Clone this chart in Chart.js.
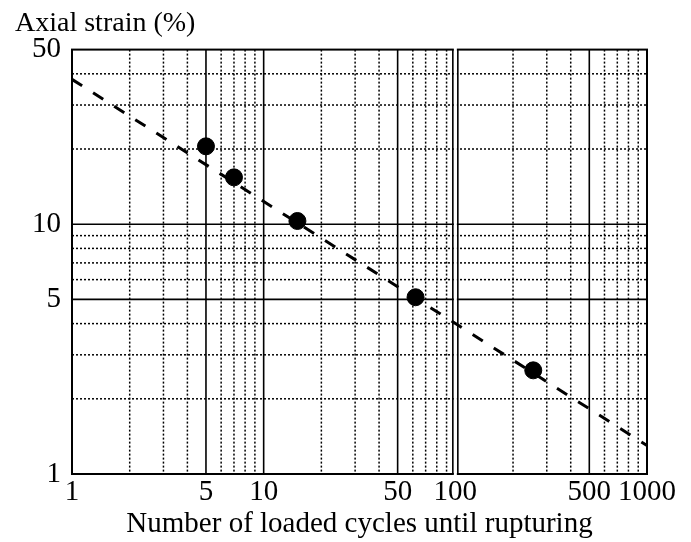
<!DOCTYPE html>
<html>
<head>
<meta charset="utf-8">
<script src="https://cdn.jsdelivr.net/npm/chart.js@4.4.1/dist/chart.umd.min.js"></script>
<style>
  html, body { margin: 0; padding: 0; background: #fff; }
  #wrap { width: 691px; height: 542px; }
</style>
</head>
<body>
<div id="wrap"><canvas id="strainChart"></canvas></div>
<script>
// measured points (cycles, axial strain %)
const cycles = [5, 7, 15, 62, 255];
const strain = [20.5, 15.4, 10.3, 5.1, 2.6];

// fitted trend line as drawn in the figure
const trendCycles = [1, 1000];
const trendStrain = [38, 1.3];

const xTickLabels = [1, 5, 10, 50, 100, 500, 1000];
const yTickLabels = [1, 5, 10, 50];

const xSolidGrid = [5, 10, 50, 500];
const xDottedGrid = [2, 3, 4, 6, 7, 8, 9, 20, 30, 40, 60, 70, 80, 90, 200, 300, 400, 600, 700, 800, 900];
const ySolidGrid = [5, 10];
const yDottedGrid = [2, 3, 4, 6, 7, 8, 9, 20, 30, 40];
const panelBreak = 100;

const serif = "'Liberation Serif', 'Times New Roman', serif";

// grid lines, panel break and frame, drawn under the data
const gridPlugin = {
    id: 'paperGrid',
    beforeDatasetsDraw(chart) {
        const { ctx, chartArea: a, scales: { x, y } } = chart;
        ctx.save();
        ctx.strokeStyle = '#000';

        const vline = (v) => { const p = x.getPixelForValue(v); ctx.beginPath(); ctx.moveTo(p, a.top); ctx.lineTo(p, a.bottom); ctx.stroke(); };
        const hline = (v) => { const p = y.getPixelForValue(v); ctx.beginPath(); ctx.moveTo(a.left, p); ctx.lineTo(a.right, p); ctx.stroke(); };

        ctx.lineWidth = 1.5;
        ctx.setLineDash([2, 2]);
        xDottedGrid.forEach(vline);
        yDottedGrid.forEach(hline);

        ctx.setLineDash([]);
        ctx.lineWidth = 1.6;
        xSolidGrid.forEach(vline);
        ySolidGrid.forEach(hline);

        ctx.lineWidth = 2;
        ctx.strokeRect(a.left, a.top, a.right - a.left, a.bottom - a.top);

        // white gap between the two panels at 100
        const pb = x.getPixelForValue(panelBreak);
        ctx.fillStyle = '#fff';
        ctx.fillRect(pb - 1.5, a.top - 2, 3, a.bottom - a.top + 4);
        ctx.lineWidth = 1.6;
        [pb - 2.5, pb + 2.5].forEach(p => {
            ctx.beginPath(); ctx.moveTo(p, a.top); ctx.lineTo(p, a.bottom); ctx.stroke();
        });
        ctx.restore();
    }
};

const ctx = document.getElementById('strainChart');
new Chart(ctx, {
    type: 'scatter',
    data: {
        datasets: [
            {
                type: 'line',
                data: trendCycles.map((c, i) => ({ x: c, y: trendStrain[i] })),
                borderColor: '#000',
                borderWidth: 3,
                borderDash: [12, 13],
                pointRadius: 0,
                fill: false
            },
            {
                data: cycles.map((c, i) => ({ x: c, y: strain[i] })),
                backgroundColor: '#000',
                borderColor: '#000',
                pointRadius: 8.5
            }
        ]
    },
    options: {
        responsive: true,
        maintainAspectRatio: false,
        animation: false,
        layout: { padding: { left: 15, right: 44, top: 7, bottom: 0 } },
        plugins: {
            legend: { display: false },
            tooltip: { enabled: false },
            title: {
                display: true,
                text: 'Axial strain (%)',
                align: 'start',
                color: '#000',
                font: { family: serif, size: 28, weight: 'normal' },
                padding: { top: 0, bottom: 9 }
            }
        },
        scales: {
            x: {
                type: 'logarithmic',
                min: 1,
                max: 1000,
                grid: { display: false, drawTicks: false },
                border: { display: false },
                afterBuildTicks: scale => { scale.ticks = xTickLabels.map(v => ({ value: v })); },
                afterFit: scale => { scale.height = 68; },
                ticks: {
                    autoSkip: false,
                    maxRotation: 0,
                    padding: 1,
                    color: '#000',
                    font: { family: serif, size: 29 },
                    callback: v => String(v)
                },
                title: {
                    display: true,
                    text: 'Number of loaded cycles until rupturing',
                    color: '#000',
                    font: { family: serif, size: 29 },
                    padding: 0
                }
            },
            y: {
                type: 'logarithmic',
                min: 1,
                max: 50,
                grid: { display: false, drawTicks: false },
                border: { display: false },
                afterBuildTicks: scale => { scale.ticks = yTickLabels.map(v => ({ value: v })); },
                afterFit: scale => { scale.width = 57; },
                ticks: {
                    autoSkip: false,
                    padding: 11,
                    color: '#000',
                    font: { family: serif, size: 29 },
                    callback: v => String(v)
                }
            }
        }
    },
    plugins: [gridPlugin]
});
</script>
</body>
</html>
